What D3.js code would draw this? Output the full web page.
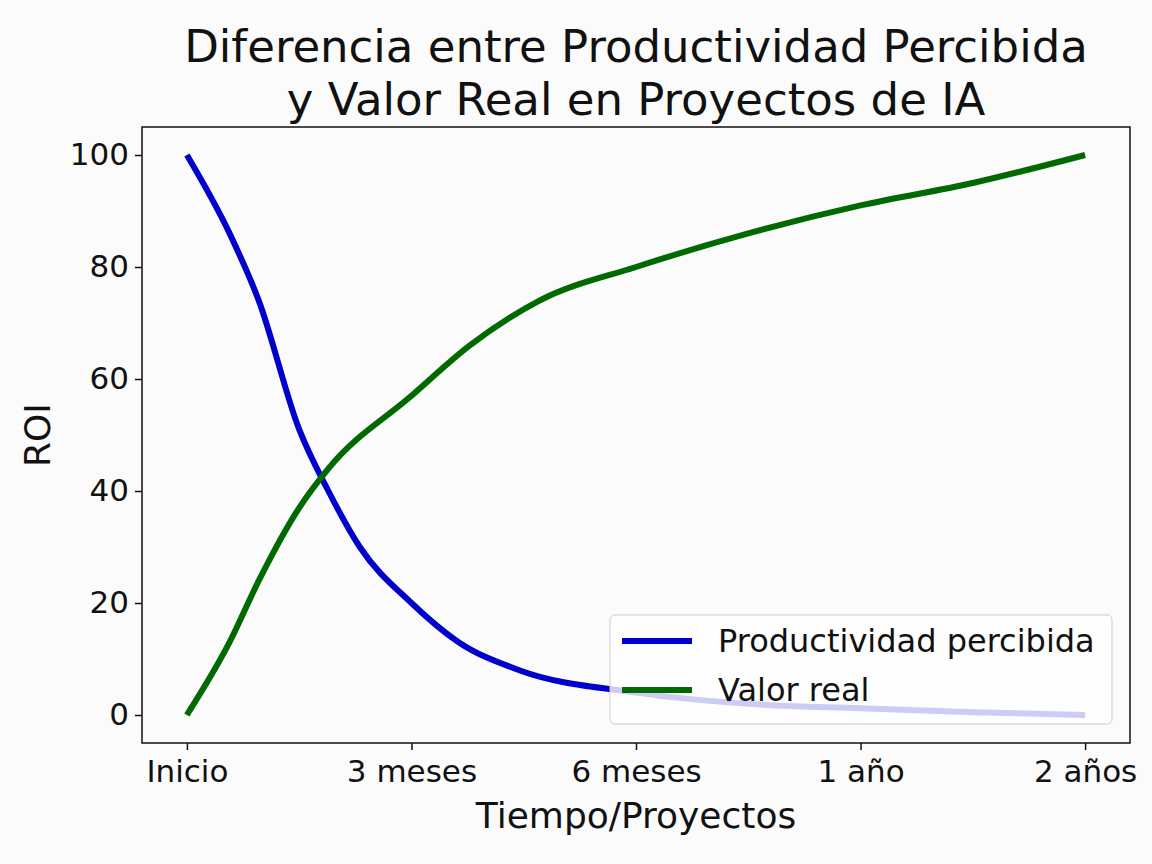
<!DOCTYPE html>
<html lang="en">
<head>
<meta charset="UTF-8">
<script src="https://d3js.org/d3.v7.min.js"></script>
<style>
  body { margin: 0; background: #fbfbfc; }
  text { font-family: "DejaVu Sans", sans-serif; fill: #111; }
</style>
</head>
<body>
<script>
// tick labels for the x positions 0..4
var xLabels = ["Inicio", "3 meses", "6 meses", "1 año", "2 años"];
var yTicks = [0, 20, 40, 60, 80, 100];

// values (x in tick units)
var perceivedX = [0, 0.19, 0.32, 0.5, 0.63, 0.77, 1.0, 1.21, 1.48, 2.0, 2.5, 3.0, 3.5, 4.0];
var perceivedY = [100, 86, 74, 51, 40, 30, 20, 13, 8, 4, 2, 1.2, 0.5, 0];
var realX = [0, 0.19, 0.32, 0.5, 0.63, 1.0, 1.26, 1.57, 2.0, 2.5, 3.0, 3.5, 4.0];
var realY = [0, 13, 24, 37, 44, 57, 66, 74, 80, 86, 91, 95, 100];

var W = 1152, H = 864;
var mLeft = 142, mRight = 1130, mTop = 127, mBottom = 743;

var svg = d3.select("body").append("svg").attr("width", W).attr("height", H);

var x = d3.scaleLinear().domain([-0.2, 4.2]).range([mLeft, mRight]);
var y = d3.scaleLinear().domain([-5, 105]).range([mBottom, mTop]);

var line = d3.line().x(function(d) { return x(d[0]); }).y(function(d) { return y(d[1]); }).curve(d3.curveMonotoneX);

svg.append("path").datum(d3.zip(perceivedX, perceivedY)).attr("d", line)
  .attr("fill", "none").attr("stroke", "#0000cc").attr("stroke-width", 6);
svg.append("path").datum(d3.zip(realX, realY)).attr("d", line)
  .attr("fill", "none").attr("stroke", "#006a00").attr("stroke-width", 6);

// frame
svg.append("rect").attr("x", mLeft).attr("y", mTop).attr("width", mRight - mLeft).attr("height", mBottom - mTop)
  .attr("fill", "none").attr("stroke", "#111").attr("stroke-width", 1.5);

var xAxis = svg.append("g").attr("transform", "translate(0," + mBottom + ")")
  .call(d3.axisBottom(x).tickValues([0, 1, 2, 3, 4]).tickFormat(function(d) { return xLabels[d]; }).tickSize(7).tickPadding(6));
var yAxis = svg.append("g").attr("transform", "translate(" + mLeft + ",0)")
  .call(d3.axisLeft(y).tickValues(yTicks).tickSize(7).tickPadding(6));
[xAxis, yAxis].forEach(function(a) {
  a.select(".domain").remove();
  a.selectAll("line").attr("stroke", "#111").attr("stroke-width", 1.5);
  a.selectAll("text").style("font-family", "DejaVu Sans").style("font-size", "31px").attr("fill", "#111");
});
xAxis.selectAll("text").attr("dy", "0.85em");

// labels
svg.append("text").attr("x", 636).attr("y", 828).attr("text-anchor", "middle").style("font-size", "36px").text("Tiempo/Proyectos");
svg.append("text").attr("transform", "translate(50,435) rotate(-90)").attr("text-anchor", "middle").style("font-size", "36px").text("ROI");
svg.append("text").attr("x", 636).attr("y", 62).attr("text-anchor", "middle").style("font-size", "45px").text("Diferencia entre Productividad Percibida");
svg.append("text").attr("x", 636).attr("y", 115).attr("text-anchor", "middle").style("font-size", "45px").text("y Valor Real en Proyectos de IA");

// legend
var lg = svg.append("g");
lg.append("rect").attr("x", 610).attr("y", 615).attr("width", 502).attr("height", 109).attr("rx", 5)
  .attr("fill", "white").attr("fill-opacity", 0.8).attr("stroke", "#ccc");
var items = [["Productividad percibida", "#0000cc"], ["Valor real", "#006a00"]];
items.forEach(function(it, i) {
  var yy = 641 + i * 49;
  lg.append("line").attr("x1", 622).attr("x2", 692).attr("y1", yy).attr("y2", yy).attr("stroke", it[1]).attr("stroke-width", 6);
  lg.append("text").attr("x", 718).attr("y", yy + 11).style("font-size", "32px").text(it[0]);
});
</script>
</body>
</html>
